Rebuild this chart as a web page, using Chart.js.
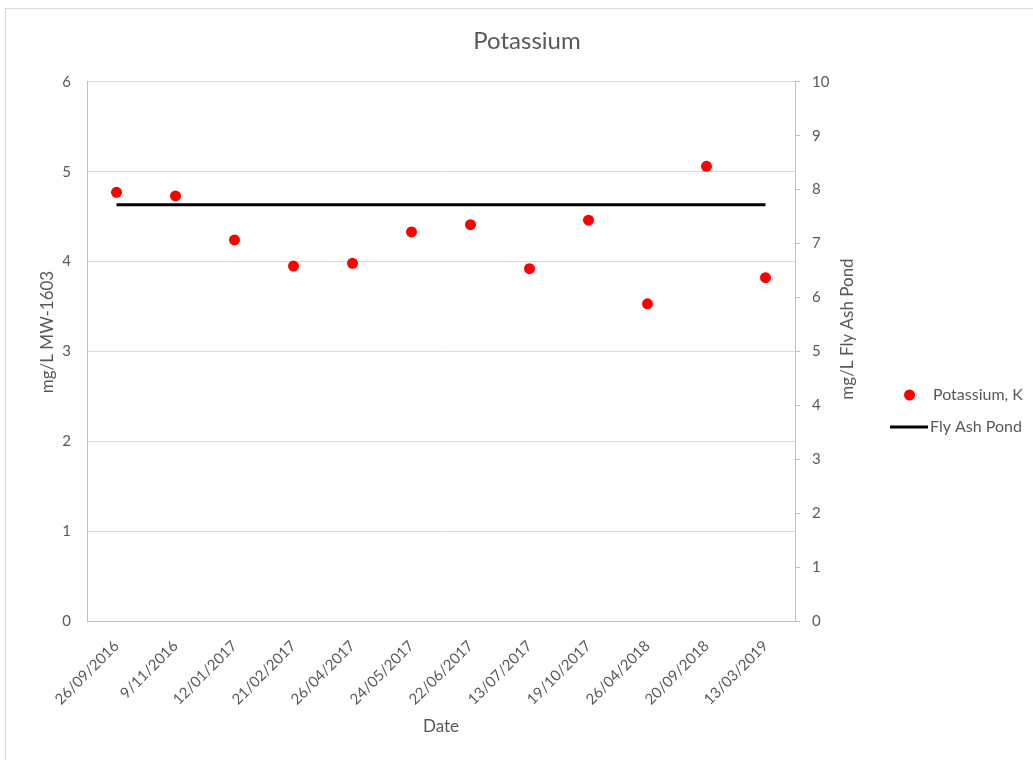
<!DOCTYPE html>
<html><head><meta charset="utf-8">
<script src="https://cdn.jsdelivr.net/npm/chart.js@4.4.0/dist/chart.umd.min.js"></script>
<style>
html,body{margin:0;padding:0;background:#fff;overflow:hidden;width:1033px;height:760px}
#frame{position:absolute;left:5px;top:8px;width:1100px;height:800px;border:1px solid #d9d9d9;box-sizing:border-box}
#wrap{position:absolute;left:0;top:0;width:1033px;height:760px}
</style></head><body>
<div id="frame"></div>
<div id="wrap"><canvas id="c" width="1033" height="760"></canvas></div>
<script>
const categories = ["26/09/2016","9/11/2016","12/01/2017","21/02/2017","26/04/2017","24/05/2017","22/06/2017","13/07/2017","19/10/2017","26/04/2018","20/09/2018","13/03/2019"];
const potassium = [4.77, 4.73, 4.24, 3.95, 3.98, 4.33, 4.41, 3.92, 4.46, 3.53, 5.06, 3.82];
const flyAshPond = [7.72, 7.72, 7.72, 7.72, 7.72, 7.72, 7.72, 7.72, 7.72, 7.72, 7.72, 7.72];
const leftAxisRange = [0, 6];
const rightAxisRange = [0, 10];
const chartTitle = "Potassium";
const xTitle = "Date";
const leftTitle = "mg/L MW-1603";
const rightTitle = "mg/L Fly Ash Pond";

const FONT = "Lato, 'Open Sans', sans-serif";
const TXT = "#595959";

const extras = {
  id: 'extras',
  afterDraw(chart) {
    const ctx = chart.ctx;
    const a = chart.chartArea;
    ctx.save();
    ctx.fillStyle = TXT;
    ctx.font = "17px " + FONT;
    ctx.textAlign = "center";
    ctx.textBaseline = "middle";
    // left axis title
    ctx.save();
    ctx.translate(a.left - 39, 332);
    ctx.rotate(-Math.PI / 2);
    ctx.fillText(leftTitle, 0, 0);
    ctx.restore();
    // right axis title
    ctx.save();
    ctx.translate(a.right + 53, 329);
    ctx.rotate(-Math.PI / 2);
    ctx.fillText(rightTitle, 0, 0);
    ctx.restore();
    // legend
    const ds = chart.data.datasets;
    ctx.textAlign = "left";
    ctx.font = "16px " + FONT;
    ctx.beginPath();
    ctx.fillStyle = ds[0].backgroundColor;
    ctx.arc(909.5, 395, 5.5, 0, Math.PI * 2);
    ctx.fill();
    ctx.fillStyle = TXT;
    ctx.fillText(ds[0].label, 933, 395);
    ctx.beginPath();
    ctx.strokeStyle = ds[1].borderColor;
    ctx.lineWidth = 3;
    ctx.moveTo(890, 427);
    ctx.lineTo(928, 427);
    ctx.stroke();
    ctx.fillText(ds[1].label, 930, 427);
    ctx.restore();
  }
};

new Chart(document.getElementById('c'), {
  type: 'line',
  data: {
    labels: categories,
    datasets: [
      {
        label: "Potassium, K",
        data: potassium,
        yAxisID: 'y',
        showLine: false,
        pointRadius: 5.5,
        pointHoverRadius: 5.5,
        backgroundColor: '#ff0000',
        borderColor: '#ff0000',
        pointBorderWidth: 0,
        order: 0
      },
      {
        label: "Fly Ash Pond",
        data: flyAshPond,
        yAxisID: 'y2',
        borderColor: '#000000',
        backgroundColor: '#000000',
        borderWidth: 3,
        pointRadius: 0,
        tension: 0,
        order: 1
      }
    ]
  },
  options: {
    responsive: false,
    animation: false,
    devicePixelRatio: 1,
    layout: { padding: { left: 21, right: 0, top: 0, bottom: 0 } },
    plugins: {
      legend: { display: false },
      tooltip: { enabled: false },
      title: {
        display: true,
        text: chartTitle,
        color: TXT,
        font: { family: FONT, size: 24, weight: 'normal' },
        padding: { top: 27, bottom: 26 }
      }
    },
    scales: {
      x: {
        type: 'category',
        offset: true,
        grid: { drawOnChartArea: false, drawTicks: false },
        border: { color: '#bfbfbf', width: 1 },
        ticks: { color: TXT, font: { family: FONT, size: 15 }, minRotation: 45, maxRotation: 45, padding: 16, autoSkip: false },
        title: { display: true, text: xTitle, color: TXT, font: { family: FONT, size: 17 }, padding: { top: 0, bottom: 23 } },
        afterFit(s) { s.height = 139; }
      },
      y: {
        position: 'left',
        min: leftAxisRange[0], max: leftAxisRange[1],
        ticks: { stepSize: 1, color: TXT, font: { family: FONT, size: 15 }, padding: 16 },
        grid: { color: '#d9d9d9', drawTicks: false },
        border: { color: '#bfbfbf', width: 1 },
        afterFit(s) { s.width = 66; }
      },
      y2: {
        position: 'right',
        min: rightAxisRange[0], max: rightAxisRange[1],
        ticks: { stepSize: 1, color: TXT, font: { family: FONT, size: 15 }, padding: 12 },
        grid: { drawOnChartArea: false, drawTicks: true, tickLength: 5, color: '#bfbfbf' },
        border: { color: '#bfbfbf', width: 1 },
        afterFit(s) { s.width = 238; }
      }
    }
  },
  plugins: [extras]
});
</script>
</body></html>
